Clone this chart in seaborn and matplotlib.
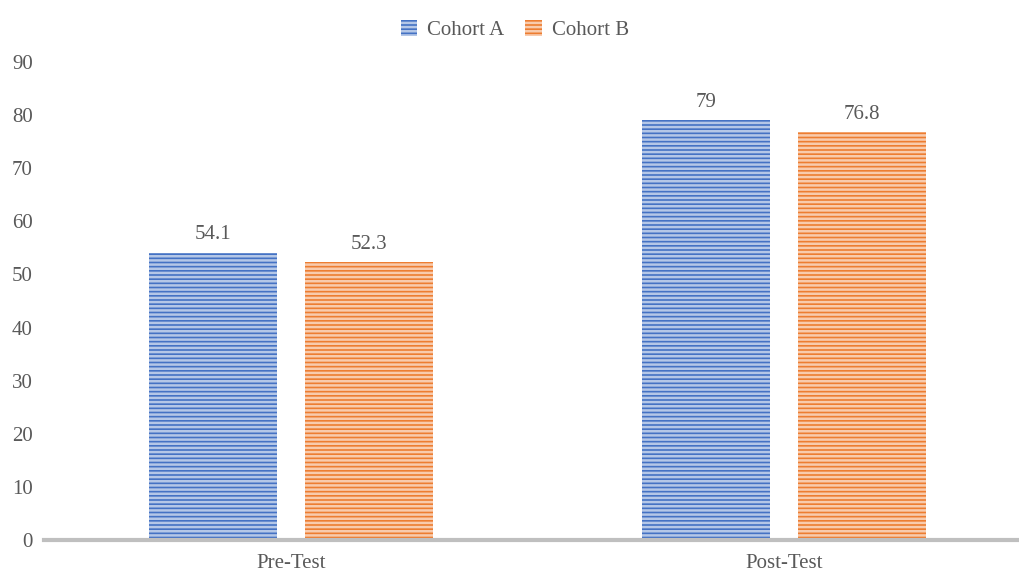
import matplotlib
matplotlib.use("Agg")
import matplotlib.pyplot as plt
from matplotlib.patches import Patch
import seaborn as sns
import pandas as pd

categories = ["Pre-Test", "Post-Test"]
cohorts = ["Cohort A", "Cohort B"]
cohort_a = [54.1, 79]
cohort_b = [52.3, 76.8]
y_ticks = [0, 10, 20, 30, 40, 50, 60, 70, 80, 90]

df = pd.DataFrame({
    "Test": categories * 2,
    "Cohort": [cohorts[0]] * 2 + [cohorts[1]] * 2,
    "Score": cohort_a + cohort_b,
})

sns.set_theme(style="white")
plt.rcParams["font.family"] = ["Liberation Serif", "DejaVu Serif"]
plt.rcParams["hatch.linewidth"] = 1.8

text_color = "#595959"
palette = {"Cohort A": "#4472C4", "Cohort B": "#ED7D31"}
stripe = {"Cohort A": "#B4C7E7", "Cohort B": "#F8CBAD"}
fs = 15

fig = plt.figure(figsize=(10.19, 5.74), dpi=100)
ax = fig.add_axes([44 / 1019, 34 / 574, (1019 - 44) / 1019, (540 - 62) / 574])

sns.barplot(data=df, x="Test", y="Score", hue="Cohort", order=categories,
            hue_order=cohorts, palette=palette, width=0.632, gap=0.177,
            saturation=1, ax=ax, legend=False)

for container, name in zip(ax.containers, cohorts):
    for bar in container:
        bar.set_hatch("----")
        bar.set_edgecolor(stripe[name])
        bar.set_linewidth(0)
    ax.bar_label(container, labels=[f"{v:g}" for v in container.datavalues],
                 padding=6, fontsize=fs, color=text_color)

ax.set_xlim(-0.501, 1.477)
ax.set_ylim(0, 90)
ax.set_yticks(y_ticks)
ax.set_xlabel("")
ax.set_ylabel("")
for side in ["top", "right", "left"]:
    ax.spines[side].set_visible(False)
ax.spines["bottom"].set_color("#BFBFBF")
ax.spines["bottom"].set_linewidth(3)
ax.spines["bottom"].set_clip_on(False)
ax.tick_params(axis="y", length=0, pad=8, labelsize=fs, labelcolor=text_color)
ax.tick_params(axis="x", length=0, pad=10, labelsize=fs, labelcolor=text_color)

handles = [Patch(facecolor=palette[c], edgecolor=stripe[c], hatch="----", linewidth=0)
           for c in cohorts]
fig.legend(handles, cohorts, loc="center", bbox_to_anchor=(515 / 1019, 1 - 30 / 574),
           ncol=2, frameon=False, fontsize=fs, labelcolor=text_color,
           handlelength=0.77, handleheight=0.8, handletextpad=0.5, columnspacing=1.0)

fig.savefig("out.png", dpi=100)
